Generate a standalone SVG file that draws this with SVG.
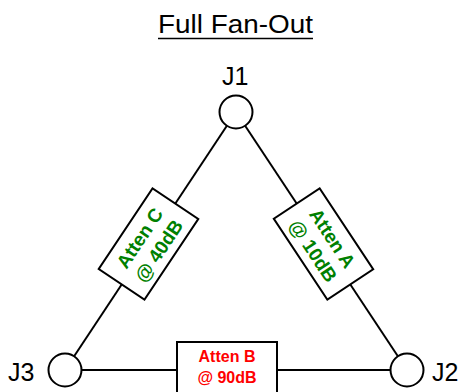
<svg xmlns="http://www.w3.org/2000/svg" width="459" height="392" viewBox="0 0 459 392">
<style>
.ln{stroke:#000;stroke-width:2;fill:none}
.jc{fill:#fff;stroke:#000;stroke-width:2}
.box{fill:#fff;stroke:#000;stroke-width:2}
.jl{font-family:"Liberation Sans",Arial,sans-serif;font-size:25px;fill:#000}
.g{font-family:"Liberation Sans",Arial,sans-serif;font-size:19px;font-weight:bold;fill:#008000;text-anchor:middle}
.r{font-family:"Liberation Sans",Arial,sans-serif;font-size:16px;font-weight:bold;fill:#ff0000;text-anchor:middle}
</style>
<rect width="459" height="392" fill="#fff"/>
<g id="title">
<text x="158" y="33" font-family="'Liberation Sans',Arial,sans-serif" font-size="26" textLength="155" lengthAdjust="spacingAndGlyphs">Full Fan-Out</text>
<line x1="158" y1="38.5" x2="313" y2="38.5" stroke="#000" stroke-width="1.6"/>
</g>
<g id="connectors">
<line class="ln" x1="236" y1="112" x2="65" y2="370"/>
<line class="ln" x1="236" y1="112" x2="407" y2="370"/>
<line class="ln" x1="65" y1="370" x2="407" y2="370"/>
</g>
<g id="J1">
<circle class="jc" cx="236" cy="112" r="16.5"/>
<text class="jl" x="222" y="85">J1</text>
</g>
<g id="J2">
<circle class="jc" cx="407" cy="370" r="16.5"/>
<text class="jl" x="432" y="381">J2</text>
</g>
<g id="J3">
<circle class="jc" cx="65" cy="370" r="16.5"/>
<text class="jl" x="8" y="381">J3</text>
</g>
<g id="attenC" transform="translate(148.5,244) rotate(-56.3)">
<rect class="box" x="-48.5" y="-27.5" width="97" height="55"/>
<text class="g" x="0" y="-4">Atten C</text>
<text class="g" x="0" y="19">@ 40dB</text>
</g>
<g id="attenA" transform="translate(323.5,244) rotate(56.5)">
<rect class="box" x="-48.5" y="-27.5" width="97" height="55"/>
<text class="g" x="0" y="-4">Atten A</text>
<text class="g" x="0" y="19">@ 10dB</text>
</g>
<g id="attenB">
<rect class="box" x="177" y="342" width="100" height="60"/>
<text class="r" x="227" y="362">Atten B</text>
<text class="r" x="227" y="383">@ 90dB</text>
</g>
</svg>
